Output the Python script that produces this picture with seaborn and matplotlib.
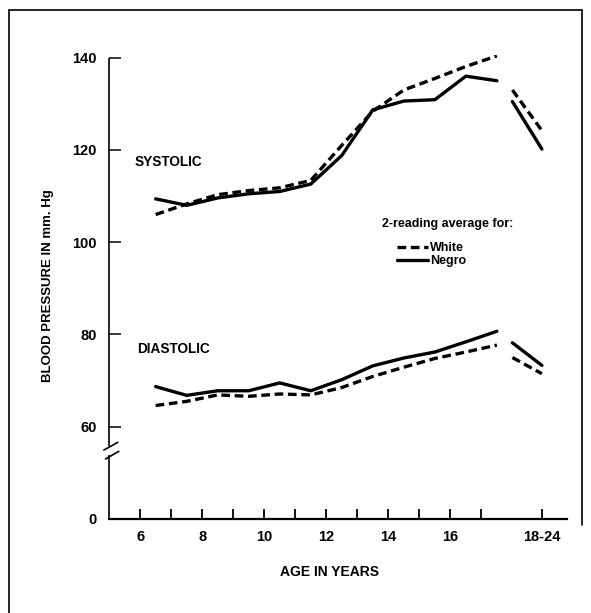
import numpy as np
import pandas as pd
import matplotlib
matplotlib.use("Agg")
import matplotlib.pyplot as plt
import seaborn as sns
from matplotlib.lines import Line2D

# ---------------- data ----------------
ages = [6.5, 7.5, 8.5, 9.5, 10.5, 11.5, 12.5, 13.5, 14.5, 15.5, 16.5, 17.5]
sys_white = [106.0, 108.3, 110.3, 111.2, 111.8, 113.4, 121.0, 128.4, 133.0, 135.5, 138.1, 140.4]
sys_negro = [109.4, 108.0, 109.6, 110.5, 111.0, 112.6, 118.8, 128.7, 130.6, 130.9, 136.0, 135.0]
dia_white = [64.6, 65.5, 66.9, 66.6, 67.1, 66.9, 68.5, 70.9, 72.9, 74.8, 76.2, 77.7]
dia_negro = [68.7, 66.8, 67.8, 67.8, 69.5, 67.8, 70.2, 73.2, 74.9, 76.2, 78.4, 80.7]

adult_x = [18.0, 18.95]          # broken segment leading to the 18-24 group
sys_white_adult = [133.0, 124.2]
sys_negro_adult = [130.5, 120.2]
dia_white_adult = [75.0, 71.5]
dia_negro_adult = [78.2, 73.3]

races = ["White", "Negro"]
x_major = [6, 8, 10, 12, 14, 16, 18.95]
x_major_labels = ["6", "8", "10", "12", "14", "16", "18-24"]
x_minor = [7, 9, 11, 13, 15, 17]
y_ticks = [0, 60, 80, 100, 120, 140]
y_tick_labels = ["0", "60", "80", "100", "120", "140"]

# ---------------- long table ----------------
rows = []
series = {
    ("Systolic", "White"): (sys_white, sys_white_adult),
    ("Systolic", "Negro"): (sys_negro, sys_negro_adult),
    ("Diastolic", "White"): (dia_white, dia_white_adult),
    ("Diastolic", "Negro"): (dia_negro, dia_negro_adult),
}
for (measure, race), (child, adult) in series.items():
    for a, v in zip(ages, child):
        rows.append(dict(age=a, bp=v, race=race, segment=f"{measure}-{race}-child"))
    for a, v in zip(adult_x, adult):
        rows.append(dict(age=a, bp=v, race=race, segment=f"{measure}-{race}-adult"))
df = pd.DataFrame(rows)

# ---------------- style ----------------
sns.set_style("ticks")
plt.rcParams["font.family"] = ["Liberation Sans", "DejaVu Sans"]
plt.rcParams["font.weight"] = "bold"
for k in ["text.color", "axes.labelcolor", "xtick.color", "ytick.color",
          "xtick.labelcolor", "ytick.labelcolor", "axes.edgecolor"]:
    plt.rcParams[k] = "black"

W, H = 591, 613
fig = plt.figure(figsize=(W / 100, H / 100), dpi=100)
ax_left, ax_right, ax_bottom, ax_top = 108.5, 567.0, 519.0, 55.4
ax = fig.add_axes([ax_left / W, 1 - ax_bottom / H, (ax_right - ax_left) / W, (ax_bottom - ax_top) / H])

# broken y axis: 0 .. 60 compressed
def fwd(v):
    v = np.asarray(v, dtype=float)
    return np.where(v >= 60, v, 40 + v / 3.0)

def inv(y):
    y = np.asarray(y, dtype=float)
    return np.where(y >= 60, y, (y - 40) * 3.0)

ax.set_yscale("function", functions=(fwd, inv))

dash_white = (2.6, 1.4)
sns.lineplot(data=df, x="age", y="bp", style="race", style_order=races,
             units="segment", estimator=None, sort=False,
             dashes={"White": dash_white, "Negro": ""},
             color="black", linewidth=2.4, legend=False, ax=ax)

ax.set_xlim(4.98, 19.76)
ax.set_ylim(0, 140.5)

ax.set_xticks(x_major)
ax.set_xticklabels(x_major_labels, fontsize=10.5, fontweight="bold", color="black")
ax.set_xticks(x_minor, minor=True)
ax.set_yticks(y_ticks)
ax.set_yticklabels(y_tick_labels, fontsize=10.5, fontweight="bold", color="black")
ax.tick_params(axis="x", which="both", bottom=True, top=False, direction="in",
               length=7, width=1.3, pad=8, color="black")
ax.tick_params(axis="y", which="both", left=True, right=False, direction="in",
               length=8.5, width=1.1, pad=8.5, color="black")

for s in ["top", "right", "left"]:
    ax.spines[s].set_visible(False)
ax.spines["bottom"].set_linewidth(1.6)
ax.spines["bottom"].set_color("black")

# left axis line with break marks
lkw = dict(transform=ax.transAxes, color="black", lw=1.2, clip_on=False, solid_capstyle="butt")
ax.plot([0, 0], [0.1575, 0.995], **lkw)
ax.plot([0, 0], [0, 0.138], **lkw)
ax.plot([-0.0113, 0.0214], [0.148, 0.166], **lkw)
ax.plot([-0.0076, 0.0236], [0.1288, 0.1467], **lkw)

ax.set_xlabel("AGE IN YEARS", fontsize=10, fontweight="bold", va="center", color="black")
ax.xaxis.set_label_coords(0.481, -0.1143)
ax.set_ylabel("BLOOD PRESSURE IN mm. Hg", fontsize=9.5, fontweight="bold", va="center", color="black")
ax.yaxis.set_label_coords(-0.1315, 0.5026)

ax.text(5.83, 117.4, "SYSTOLIC", fontsize=9.8, fontweight="bold", ha="left", va="center", color="black")
ax.text(5.89, 76.8, "DIASTOLIC", fontsize=9.8, fontweight="bold", ha="left", va="center", color="black")

ax.text(0.5959, 0.6363, "2-reading average for:", transform=ax.transAxes,
        fontsize=9, fontweight="bold", ha="left", va="center", color="black")
handles = [Line2D([], [], color="black", lw=2.4, linestyle=(0, dash_white)),
           Line2D([], [], color="black", lw=2.4)]
leg = ax.legend(handles, races, loc="upper left", bbox_to_anchor=(0.6286, 0.597),
                frameon=False, handlelength=2.5, handletextpad=0.15,
                labelspacing=0.1, borderpad=0, borderaxespad=0,
                prop=dict(weight="bold", size=9))
for t in leg.get_texts():
    t.set_color("black")

# page frame
fkw = dict(transform=fig.transFigure, color="black", lw=1.2)
fig.add_artist(Line2D([9.4 / W, 9.4 / W], [0, 1 - 9.8 / H], **fkw))
fig.add_artist(Line2D([9.4 / W, 582 / W], [1 - 9.8 / H, 1 - 9.8 / H], **fkw))
fig.add_artist(Line2D([582 / W, 582 / W], [1 - 9.8 / H, 1 - 525 / H], **fkw))

fig.savefig("out.png", dpi=100)
